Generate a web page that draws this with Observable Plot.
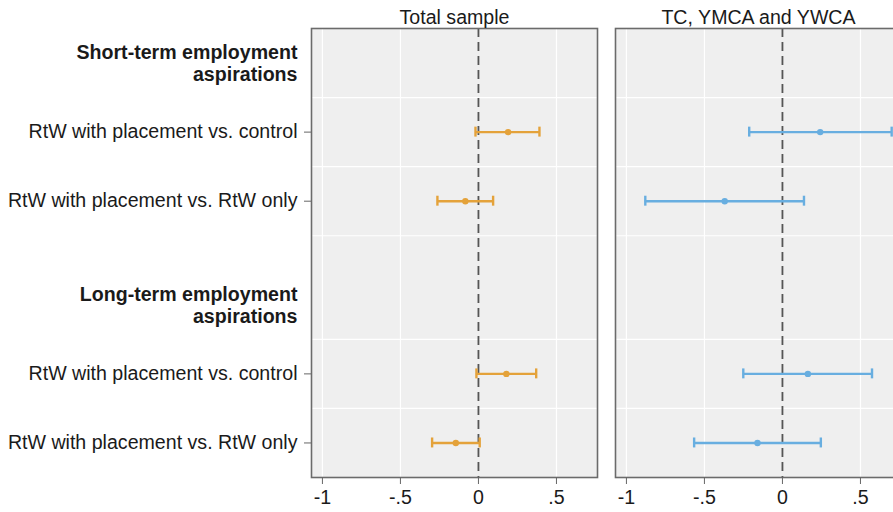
<!DOCTYPE html>
<html>
<head>
<meta charset="utf-8">
<script src="https://cdn.jsdelivr.net/npm/d3@7"></script>
<script src="https://cdn.jsdelivr.net/npm/@observablehq/plot@0.6"></script>
<style>
  html, body { margin: 0; padding: 0; background: #fff; overflow: hidden; }
  #chart { width: 905px; height: 512px; }
</style>
</head>
<body>
<div id="chart"></div>
<script>
// ---- data ----
const panels = ["Total sample", "TC, YMCA and YWCA"];
const panelColors = ["#E4A23A", "#68AEE0"];

const headerLabels = ["Short-term employment\naspirations", "Long-term employment\naspirations"];
const headerPositions = [1, 4.5];

const rowLabels = [
  "RtW with placement vs. control",
  "RtW with placement vs. RtW only",
  "RtW with placement vs. control",
  "RtW with placement vs. RtW only"
];
const rowPositions = [2, 3, 5.5, 6.5];
const gridPositions = [1.5, 2.5, 3.5, 5, 6];

const xTicks = [-1, -0.5, 0, 0.5];
const xTickLabels = ["-1", "-.5", "0", ".5"];

// Total sample
const totalEst = [0.190, -0.084, 0.179, -0.145];
const totalLo  = [-0.019, -0.263, -0.013, -0.297];
const totalHi  = [0.391, 0.094, 0.370, 0.008];
// TC, YMCA and YWCA
const tcEst = [0.242, -0.370, 0.163, -0.160];
const tcLo  = [-0.213, -0.879, -0.251, -0.566];
const tcHi  = [0.700, 0.138, 0.574, 0.246];

const series = [
  {est: totalEst, lo: totalLo, hi: totalHi},
  {est: tcEst, lo: tcLo, hi: tcHi}
];
const data = panels.flatMap((p, k) => rowPositions.map((pos, i) => ({
  panel: p, pos, est: series[k].est[i], lo: series[k].lo[i], hi: series[k].hi[i]
})));

const capHalf = 0.072;
const font = "'Liberation Sans', Arial, Helvetica, sans-serif";
const fs = 19.6;

const chart = Plot.plot({
  width: 905,
  height: 512,
  marginLeft: 310,
  marginRight: 3,
  marginTop: 28,
  marginBottom: 35,
  style: {fontFamily: font, fontSize: fs + "px", color: "#1a1a1a", background: "transparent"},
  fx: {domain: panels, paddingInner: 0.058, paddingOuter: 0},
  x: {domain: [-1.07, 0.763]},
  y: {domain: [0.5, 7], reverse: true},
  color: {domain: panels, range: panelColors},
  marks: [
    Plot.frame({fill: "#EFEFEF"}),
    Plot.gridX([-1, -0.5, 0.5], {stroke: "#ffffff", strokeOpacity: 1, strokeWidth: 1.2}),
    Plot.gridY(gridPositions, {stroke: "#ffffff", strokeOpacity: 1, strokeWidth: 1.2}),
    Plot.ruleX([0], {stroke: "#555555", strokeWidth: 1.8, strokeDasharray: "9,5"}),
    Plot.ruleY(data, {fx: "panel", y: "pos", x1: "lo", x2: "hi", stroke: "panel", strokeWidth: 2.4}),
    Plot.ruleX(data, {fx: "panel", x: "lo", y1: d => d.pos - capHalf, y2: d => d.pos + capHalf, stroke: "panel", strokeWidth: 2.4}),
    Plot.ruleX(data, {fx: "panel", x: "hi", y1: d => d.pos - capHalf, y2: d => d.pos + capHalf, stroke: "panel", strokeWidth: 2.4}),
    Plot.dot(data, {fx: "panel", x: "est", y: "pos", r: 3.2, fill: "panel", stroke: "none"}),
    Plot.frame({stroke: "#6b6b6b", strokeWidth: 1.6}),
    Plot.axisFx({anchor: "top", tickSize: 0, tickPadding: 5, label: null, fontSize: fs}),
    Plot.axisX(xTicks, {tickFormat: d => xTickLabels[xTicks.indexOf(d)], tickSize: 7, tickPadding: 6, label: null, stroke: "#666", fontSize: fs}),
    Plot.axisY(rowPositions, {tickFormat: d => rowLabels[rowPositions.indexOf(d)], tickSize: 7, tickPadding: 7, label: null, stroke: "#666", fontSize: fs}),
    Plot.axisY(headerPositions, {tickFormat: d => headerLabels[headerPositions.indexOf(d)], tickSize: 0, tickPadding: 14, label: null, fontWeight: "bold", fontSize: fs, lineHeight: 1.12})
  ]
});
document.getElementById("chart").appendChild(chart);
</script>
</body>
</html>
